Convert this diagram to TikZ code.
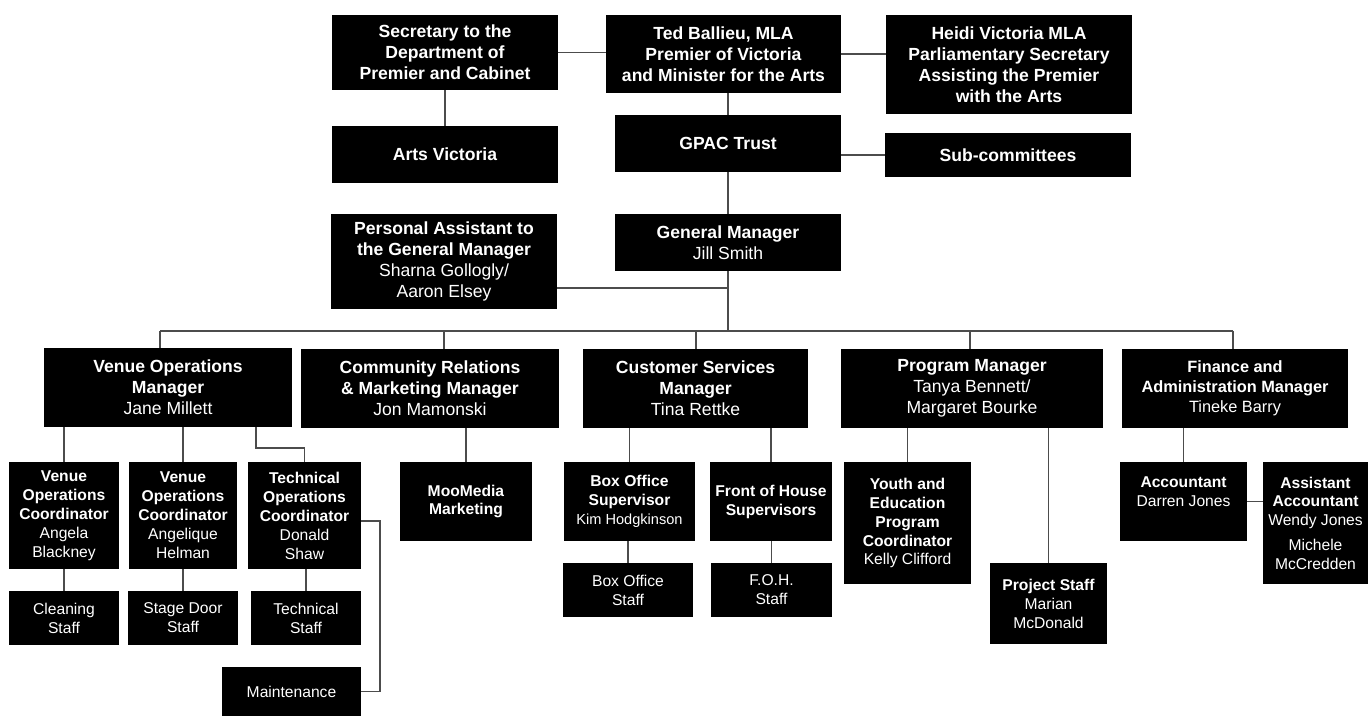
\documentclass[tikz,border=0pt]{standalone}
\usepackage{fontspec}
\setmainfont{Liberation Sans}
\tikzset{
	box/.style={shape=rectangle, fill=black, text=white, inner sep=0pt, align=center},
	big/.style={font=\fontsize{10}{12}\selectfont},
	mid/.style={font=\fontsize{9.3}{11.4}\selectfont},
	small/.style={font=\fontsize{8.9}{10.8}\selectfont},
	link/.style={draw=black!70, line width=0.8pt}
}
\begin{document}
\begin{tikzpicture}[x=0.02cm, y=-0.02cm]
			\useasboundingbox (0,0) rectangle (1370,716);
			\node[box, big, minimum width=4.52cm, minimum height=1.5cm](Sec) at (445,52.5){\textbf{Secretary to the}\\\textbf{Department of}\\\textbf{Premier and Cabinet}};
			\node[box, big, minimum width=4.7cm, minimum height=1.56cm](Ted) at (723.5,54){\textbf{Ted Ballieu, MLA}\\\textbf{Premier of Victoria}\\\textbf{and Minister for the Arts}};
			\node[box, big, minimum width=4.92cm, minimum height=1.98cm](Heidi) at (1009,64.5){\textbf{Heidi Victoria MLA}\\\textbf{Parliamentary Secretary}\\\textbf{Assisting the Premier}\\\textbf{with the Arts}};
			\node[box, big, minimum width=4.52cm, minimum height=1.14cm](Arts) at (445,154.5){\textbf{Arts Victoria}};
			\node[box, big, minimum width=4.52cm, minimum height=1.14cm](Trust) at (728,143.5){\textbf{GPAC Trust}};
			\node[box, big, minimum width=4.92cm, minimum height=0.88cm](Sub) at (1008,155){\textbf{Sub-committees}};
			\node[box, big, minimum width=4.52cm, minimum height=1.9cm](PA) at (444,261.5){\textbf{Personal Assistant to}\\\textbf{the General Manager}\\Sharna Gollogly/\\Aaron Elsey};
			\node[box, big, minimum width=4.52cm, minimum height=1.14cm](GM) at (728,242.5){\textbf{General Manager}\\Jill Smith};
			\node[box, big, minimum width=4.96cm, minimum height=1.58cm](VOM) at (168,387.5){\textbf{Venue Operations}\\\textbf{Manager}\\Jane Millett};
			\node[box, big, minimum width=5.16cm, minimum height=1.58cm](CRM) at (430,388.5){\textbf{Community Relations}\\\textbf{\& Marketing Manager}\\Jon Mamonski};
			\node[box, big, minimum width=4.5cm, minimum height=1.58cm](CSM) at (695.5,388.5){\textbf{Customer Services}\\\textbf{Manager}\\Tina Rettke};
			\node[box, big, minimum width=5.24cm, minimum height=1.58cm](PM) at (972,388.5){\textbf{Program Manager}\\Tanya Bennett/\\Margaret Bourke};
			\node[box, mid, minimum width=4.52cm, minimum height=1.58cm](FAM) at (1235,388.5){\textbf{Finance and}\\\textbf{Administration Manager}\\Tineke Barry};
			\node[box, small, minimum width=2.2cm, minimum height=2.14cm](VOC1) at (64,515.5){\textbf{Venue}\\\textbf{Operations}\\\textbf{Coordinator}\\Angela\\Blackney};
			\node[box, small, minimum width=2.16cm, minimum height=2.14cm](VOC2) at (183,515.5){\textbf{Venue}\\\textbf{Operations}\\\textbf{Coordinator}\\Angelique\\Helman};
			\node[box, small, minimum width=2.26cm, minimum height=2.14cm](TOC) at (304.5,515.5){\textbf{Technical}\\\textbf{Operations}\\\textbf{Coordinator}\\Donald\\Shaw};
			\node[box, small, minimum width=2.2cm, minimum height=1.08cm](Clean) at (64,618){Cleaning\\Staff};
			\node[box, small, minimum width=2.2cm, minimum height=1.08cm](Stage) at (183,618){Stage Door\\Staff};
			\node[box, small, minimum width=2.2cm, minimum height=1.08cm](Tech) at (306,618){Technical\\Staff};
			\node[box, small, minimum width=2.78cm, minimum height=0.98cm](Maint) at (291.5,691.5){Maintenance};
			\node[box, small, minimum width=2.64cm, minimum height=1.58cm](Moo) at (466,501.5){\textbf{MooMedia}\\\textbf{Marketing}};
			\node[box, small, minimum width=2.62cm, minimum height=1.58cm](BOS) at (629.5,501.5){\textbf{Box Office}\\\textbf{Supervisor}\\{\fontsize{8.3}{10}\selectfont Kim Hodgkinson}};
			\node[box, small, minimum width=2.44cm, minimum height=1.58cm](FOHS) at (771,501.5){\textbf{Front of House}\\\textbf{Supervisors}};
			\node[box, small, minimum width=2.6cm, minimum height=1.08cm](BOStaff) at (628,590){Box Office\\Staff};
			\node[box, small, minimum width=2.42cm, minimum height=1.08cm](FOHStaff) at (771.5,590){F.O.H.\\Staff};
			\node[box, small, minimum width=2.54cm, minimum height=2.44cm](Youth) at (907.5,523){\textbf{Youth and}\\\textbf{Education}\\\textbf{Program}\\\textbf{Coordinator}\\Kelly Clifford};
			\node[box, small, minimum width=2.34cm, minimum height=1.62cm](Proj) at (1048.5,603.5){\textbf{Project Staff}\\Marian\\McDonald};
			\node[box, small, minimum width=2.54cm, minimum height=1.58cm](Acc) at (1183.5,501.5){\textbf{Accountant}\\Darren Jones\\\mbox{}};
			\node[box, small, minimum width=2.1cm, minimum height=2.44cm](Asst) at (1315.5,523){\textbf{Assistant}\\\textbf{Accountant}\\Wendy Jones\\[3pt]Michele\\McCredden};
			\coordinate (PAjoin) at (728,288);
			\coordinate (B1) at (160,331);
			\coordinate (B2) at (444,331);
			\coordinate (B3) at (696,331);
			\coordinate (B4) at (970,331);
			\coordinate (B5) at (1233,331);
			\coordinate (T1) at (256,448);
			\coordinate (M1) at (380,521);
			\draw[link] (Sec.east) -- (Sec.east -| Ted.west);
			\draw[link] (Ted.east) -- (Ted.east -| Heidi.west);
			\draw[link] (Sec.south) -- (Arts.north);
			\draw[link] (Trust.north) -- (Trust.north |- Ted.south);
			\draw[link] (Sub.west) -- (Sub.west -| Trust.east);
			\draw[link] (Trust.south) -- (GM.north);
			\draw[link] (PAjoin -| PA.east) -- (PAjoin);
			\draw[link] (GM.south) -- (GM.south |- B1);
			\draw[link] (B1) -- (B5);
			\draw[link] (B1) -- (B1 |- VOM.north);
			\draw[link] (B2) -- (B2 |- CRM.north);
			\draw[link] (B3) -- (B3 |- CSM.north);
			\draw[link] (B4) -- (B4 |- PM.north);
			\draw[link] (B5) -- (B5 |- FAM.north);
			\draw[link] (VOC1.north) -- (VOC1.north |- VOM.south);
			\draw[link] (VOC2.north) -- (VOC2.north |- VOM.south);
			\draw[link] (T1 |- VOM.south) -- (T1) -| (TOC.north);
			\draw[link] (VOC1.south) -- (Clean.north);
			\draw[link] (VOC2.south) -- (Stage.north);
			\draw[link] (Tech.north) -- (Tech.north |- TOC.south);
			\draw[link] (TOC.east |- M1) -- (M1) |- (Maint.east);
			\draw[link] (Moo.north) -- (Moo.north |- CRM.south);
			\draw[link] (BOS.north) -- (BOS.north |- CSM.south);
			\draw[link] (FOHS.north) -- (FOHS.north |- CSM.south);
			\draw[link] (BOStaff.north) -- (BOStaff.north |- BOS.south);
			\draw[link] (FOHStaff.north) -- (FOHStaff.north |- FOHS.south);
			\draw[link] (Youth.north) -- (Youth.north |- PM.south);
			\draw[link] (Proj.north) -- (Proj.north |- PM.south);
			\draw[link] (Acc.north) -- (Acc.north |- FAM.south);
			\draw[link] (Acc.east) -- (Acc.east -| Asst.west);
		\end{tikzpicture}
\end{document}
